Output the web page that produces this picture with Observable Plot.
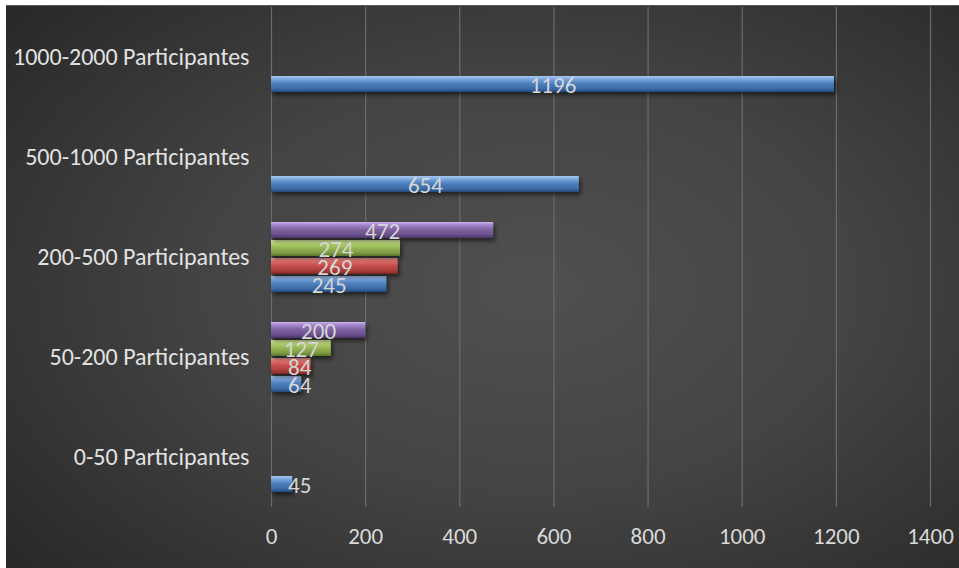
<!DOCTYPE html>
<html>
<head>
<meta charset="utf-8">
<script src="https://cdn.jsdelivr.net/npm/d3@7"></script>
<script src="https://cdn.jsdelivr.net/npm/@observablehq/plot@0.6"></script>
<style>
  html, body { margin: 0; padding: 0; background: #ffffff; }
  #chart {
    position: absolute; left: 6px; top: 5px; width: 953px; height: 563px;
    background: radial-gradient(ellipse 75% 80% at 55% 50%, #505050 0%, #444444 45%, #2e2e2e 85%, #262626 100%);
    border-top: 1px solid #5a5a5a;
    box-sizing: border-box;
    overflow: hidden;
  }
</style>
</head>
<body>
<div id="chart"></div>
<script>
const categories = ["1000-2000 Participantes", "500-1000 Participantes", "200-500 Participantes", "50-200 Participantes", "0-50 Participantes"];
const seriesNames = ["Serie 1", "Serie 2", "Serie 3", "Serie 4"];
const serie1 = [1196, 654, 245, 64, 45];
const serie2 = [null, null, 269, 84, null];
const serie3 = [null, null, 274, 127, null];
const serie4 = [null, null, 472, 200, null];
const xTicks = [0, 200, 400, 600, 800, 1000, 1200, 1400];

const allSeries = [serie1, serie2, serie3, serie4];
const data = [];
categories.forEach((c, i) => {
  allSeries.forEach((s, j) => {
    if (s[i] != null) data.push({cat: c, series: seriesNames[j], value: s[i]});
  });
});

const font = "Carlito, Calibri, Lato, 'Liberation Sans', sans-serif";

const chart = Plot.plot({
  width: 953,
  height: 562,
  marginTop: 0,
  marginBottom: 60,
  marginLeft: 265,
  marginRight: 29,
  style: {background: "transparent", color: "#d9d9d9", fontFamily: font, fontSize: "23px"},
  x: {domain: [0, 1400], ticks: xTicks, label: null},
  y: {domain: ["Serie 4", "Serie 3", "Serie 2", "Serie 1"], paddingInner: 0.135, paddingOuter: 0.78, axis: null},
  fy: {domain: categories, padding: 0, label: null},
  color: {domain: seriesNames, range: ["url(#gBlue)", "url(#gRed)", "url(#gGreen)", "url(#gPurple)"]},
  marks: [
    Plot.gridX(xTicks, {stroke: "#6c6c6c", strokeOpacity: 1, strokeWidth: 1.2}),
    Plot.barX(data, {fy: "cat", y: "series", x: "value", fill: "series", className: "bars"}),
    Plot.text(data, {fy: "cat", y: "series", x: d => Math.max(d.value / 2, 60), text: d => String(d.value),
      fill: "#d6d6d6", fontSize: 23, fontFamily: font, dy: 1}),
    Plot.axisX({ticks: xTicks, tickFormat: d => String(d), tickSize: 0, tickPadding: 20, fontSize: 23, fill: "#d9d9d9", label: null}),
    Plot.axisFy({anchor: "left", tickSize: 0, tickPadding: 22, fontSize: 24, fill: "#e2e2e2", label: null})
  ]
});

// gradients and shadow
const svg = d3.select(chart);
const defs = svg.insert("defs", ":first-child");
const grads = {
  gBlue:   ["#a9c8f0", "#7ea8e0", "#4f81bd", "#3b6aa6", "#25497a"],
  gRed:    ["#f4a4a1", "#e57470", "#c9504c", "#a83d3a", "#7a2523"],
  gGreen:  ["#dcefa8", "#bcd77a", "#9bbb59", "#7e9c42", "#5a7229"],
  gPurple: ["#cbb3ec", "#a587d0", "#8064a2", "#6a4f8c", "#4a3465"]
};
for (const [id, c] of Object.entries(grads)) {
  const g = defs.append("linearGradient").attr("id", id).attr("x1", 0).attr("y1", 0).attr("x2", 0).attr("y2", 1);
  [[0, c[0]], [0.18, c[1]], [0.45, c[2]], [0.8, c[3]], [1, c[4]]].forEach(([o, col]) =>
    g.append("stop").attr("offset", o).attr("stop-color", col));
}
const f = defs.append("filter").attr("id", "shadow").attr("x", "-5%").attr("y", "-30%").attr("width", "115%").attr("height", "180%");
f.append("feDropShadow").attr("dx", 2).attr("dy", 3).attr("stdDeviation", 2).attr("flood-color", "#000").attr("flood-opacity", 0.55);
svg.selectAll("g.bars rect").attr("filter", "url(#shadow)");

document.getElementById("chart").appendChild(chart);
</script>
</body>
</html>
